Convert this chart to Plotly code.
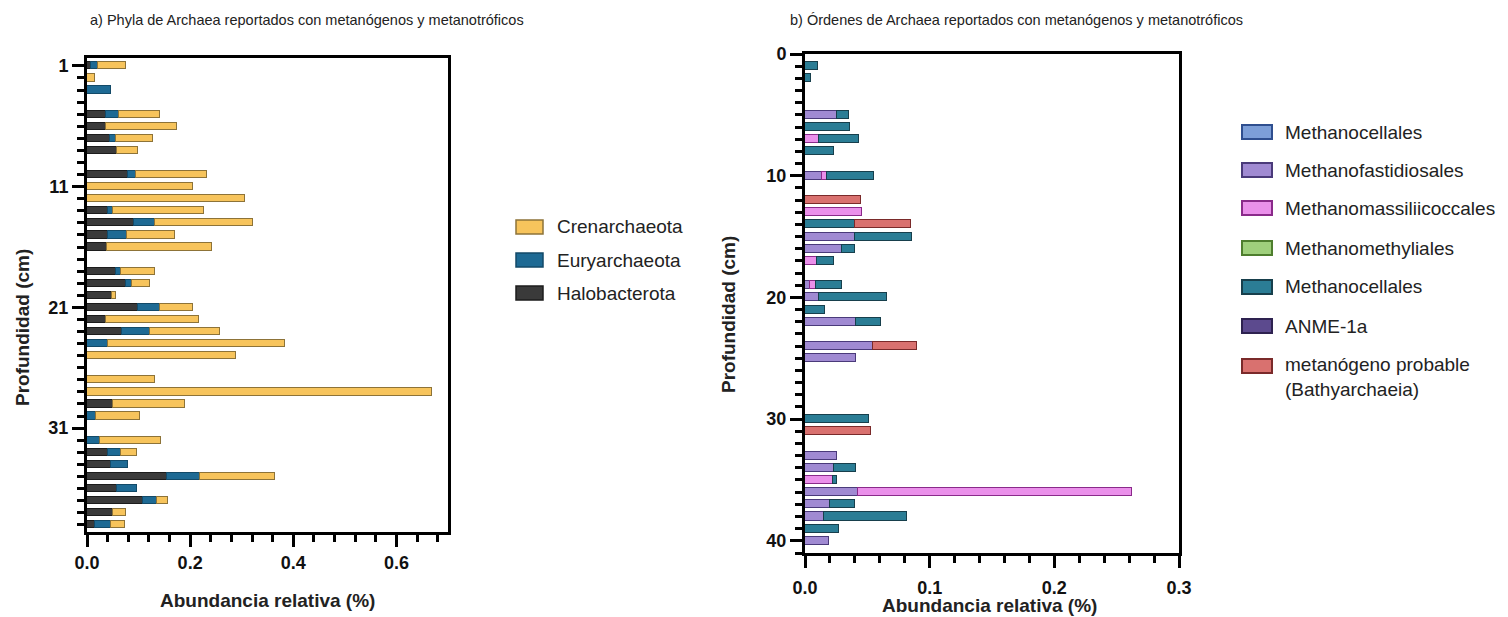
import plotly.graph_objects as go

# ---------------- Panel a: phyla (stacked segments, % relative abundance) ----------------
depth_a = list(range(1, 40))
halobacterota = [0.008, 0, 0, 0, 0.036, 0.036, 0.044, 0.058, 0, 0.079,
                 0, 0, 0.040, 0.092, 0.040, 0.038, 0, 0.057, 0.075, 0.049,
                 0.099, 0.036, 0.067, 0, 0, 0, 0, 0, 0.051, 0,
                 0, 0, 0.040, 0.046, 0.155, 0.058, 0.109, 0.051, 0.015]
euryarchaeota = [0.013, 0, 0.047, 0, 0.026, 0, 0.013, 0, 0, 0.016,
                 0, 0, 0.011, 0.040, 0.037, 0, 0, 0.009, 0.012, 0,
                 0.043, 0, 0.055, 0.041, 0, 0, 0, 0, 0, 0.017,
                 0, 0.026, 0.026, 0.033, 0.065, 0.038, 0.027, 0, 0.031]
crenarchaeota = [0.054, 0.016, 0, 0, 0.080, 0.138, 0.070, 0.040, 0, 0.137,
                 0.205, 0.306, 0.176, 0.190, 0.093, 0.205, 0, 0.065, 0.035, 0.007,
                 0.063, 0.182, 0.136, 0.342, 0.289, 0, 0.132, 0.669, 0.139, 0.085,
                 0, 0.117, 0.031, 0, 0.144, 0, 0.021, 0.024, 0.027]
phyla_names = ["Halobacterota", "Euryarchaeota", "Crenarchaeota"]
phyla_values = [halobacterota, euryarchaeota, crenarchaeota]
phyla_fill = ["#3a3a3a", "#1e6a94", "#f7c45c"]
phyla_edge = ["#1c1c1c", "#134a68", "#8d7338"]

ytick_a = [1, 11, 21, 31]
xtick_a = [0.0, 0.2, 0.4, 0.6]

# ---------------- Panel b: orders (stacked segments) ----------------
depth_b = list(range(1, 41))
methanocellales_1 = [0] * 40
methanofastidiosales = [0, 0, 0, 0, 0.026, 0, 0, 0, 0, 0.014,
                        0, 0, 0, 0, 0.040, 0.030, 0, 0, 0.004, 0.011,
                        0, 0.041, 0, 0.0545, 0.041, 0, 0, 0, 0, 0,
                        0, 0, 0.0257, 0.0235, 0, 0.0428, 0.020, 0.0155, 0, 0.0195]
methanomassiliicoccales = [0, 0, 0, 0, 0, 0, 0.0115, 0, 0, 0.004,
                           0, 0, 0.046, 0, 0, 0, 0.0094, 0, 0.005, 0,
                           0, 0, 0, 0, 0, 0, 0, 0, 0, 0,
                           0, 0, 0, 0, 0.0227, 0.2195, 0, 0, 0, 0]
methanomethyliales = [0] * 40
methanocellales_2 = [0.0102, 0.0048, 0, 0, 0.0096, 0.036, 0.032, 0.023, 0, 0.037,
                     0, 0, 0, 0.040, 0.046, 0.010, 0.014, 0, 0.021, 0.055,
                     0.0158, 0.020, 0, 0, 0, 0, 0, 0, 0, 0.051,
                     0, 0, 0, 0.0175, 0.003, 0, 0.020, 0.066, 0.0275, 0]
anme_1a = [0] * 40
bathyarchaeia = [0, 0, 0, 0, 0, 0, 0, 0, 0, 0,
                 0, 0.045, 0, 0.045, 0, 0, 0, 0, 0, 0,
                 0, 0, 0, 0.035, 0, 0, 0, 0, 0, 0,
                 0.053, 0, 0, 0, 0, 0, 0, 0, 0, 0]
order_names = ["Methanocellales", "Methanofastidiosales", "Methanomassiliicoccales",
               "Methanomethyliales", "Methanocellales", "ANME-1a",
               "metanógeno probable<br>(Bathyarchaeia)"]
order_values = [methanocellales_1, methanofastidiosales, methanomassiliicoccales,
                methanomethyliales, methanocellales_2, anme_1a, bathyarchaeia]
order_fill = ["#7d9fd8", "#a08ad2", "#ea90ea", "#9fd07c", "#2b7d95", "#5c4a8e", "#d9716f"]
order_edge = ["#2f4f8f", "#4a3a7a", "#8a2a8a", "#4e7e2e", "#173f4c", "#2e2250", "#7a2a2a"]

ytick_b = [0, 10, 20, 30, 40]
xtick_b = [0.0, 0.1, 0.2, 0.3]

W, H = 1508, 617


def px(x):
    return x / W


def py(y):
    return 1 - y / H


fig = go.Figure()

for name, vals, fc, ec in zip(phyla_names, phyla_values, phyla_fill, phyla_edge):
    fig.add_trace(go.Bar(
        x=[v if v else None for v in vals], y=depth_a, orientation="h", name=name,
        marker=dict(color=fc, line=dict(color=ec, width=1)), width=0.6,
        xaxis="x", yaxis="y", showlegend=False))

for name, vals, fc, ec in zip(order_names, order_values, order_fill, order_edge):
    fig.add_trace(go.Bar(
        x=[v if v else None for v in vals], y=depth_b, orientation="h", name=name,
        marker=dict(color=fc, line=dict(color=ec, width=1)), width=0.66,
        xaxis="x2", yaxis="y2", showlegend=False))

tickfont = dict(family="Liberation Sans, Arial", size=18, color="#111", weight="bold")
axis_common = dict(showgrid=False, zeroline=False, showline=True, linecolor="black",
                   linewidth=3, mirror=True, ticks="outside", tickcolor="black",
                   tickwidth=3, ticklen=12, tickfont=tickfont, automargin=False)


def minor(t0, dt):
    return dict(tickmode="linear", tick0=t0, dtick=dt, ticks="outside",
                ticklen=7, tickwidth=2.5, tickcolor="black")


fig.update_layout(
    width=W, height=H, margin=dict(l=0, r=0, t=0, b=0),
    paper_bgcolor="white", plot_bgcolor="white", barmode="stack",
    bargap=0, showlegend=False,
    xaxis=dict(domain=[px(87), px(448)], range=[0, 0.70], anchor="y",
               tickmode="array", tickvals=xtick_a, ticktext=[f"{v:.1f}" for v in xtick_a],
               minor=minor(0, 0.04), **axis_common),
    yaxis=dict(domain=[py(532), py(58)], range=[39.6, 0.35], anchor="x",
               tickmode="array", tickvals=ytick_a, ticktext=[str(v) for v in ytick_a],
               minor=minor(1, 1), **axis_common),
    xaxis2=dict(domain=[px(805), px(1179)], range=[0, 0.30], anchor="y2",
                tickmode="array", tickvals=xtick_b, ticktext=[f"{v:.1f}" for v in xtick_b],
                minor=minor(0, 0.02), ticklabelstandoff=4, **axis_common),
    yaxis2=dict(domain=[py(553), py(54)], range=[41, 0], anchor="x2",
                tickmode="array", tickvals=ytick_b, ticktext=[str(v) for v in ytick_b],
                minor=minor(0, 1), **axis_common),
)

annotations = []
shapes = []

title_font = dict(family="Liberation Sans, Arial", size=14.5, color="#222")
annotations.append(dict(text="a) Phyla de Archaea reportados con metanógenos y metanotróficos",
                        x=px(88), y=py(20), xref="paper", yref="paper",
                        xanchor="left", yanchor="middle", showarrow=False, font=title_font))
annotations.append(dict(text="b) Órdenes de Archaea reportados con metanógenos y metanotróficos",
                        x=px(788), y=py(20), xref="paper", yref="paper",
                        xanchor="left", yanchor="middle", showarrow=False, font=title_font))

label_font = dict(family="Liberation Sans, Arial", size=19, color="#222", weight="bold")
for xc, yc, txt, ang in [(267, 600, "Abundancia relativa (%)", 0),
                         (990, 605, "Abundancia relativa (%)", 0),
                         (22, 328, "Profundidad (cm)", -90),
                         (728, 315, "Profundidad (cm)", -90)]:
    annotations.append(dict(text=txt, x=px(xc), y=py(yc), xref="paper", yref="paper",
                            xanchor="center", yanchor="middle", showarrow=False,
                            textangle=ang, font=label_font))

legend_font = dict(family="Liberation Sans, Arial", size=19, color="#222")

# legend for panel a (listed top to bottom in reverse stacking order)
leg_a_y = [227, 260, 293]
for i, yc in enumerate(leg_a_y):
    k = len(phyla_names) - 1 - i
    shapes.append(dict(type="rect", xref="paper", yref="paper",
                       x0=px(516), x1=px(543), y0=py(yc + 7), y1=py(yc - 7),
                       fillcolor=phyla_fill[k], line=dict(color=phyla_edge[k], width=1.5)))
    annotations.append(dict(text=phyla_names[k], x=px(555), y=py(yc), xref="paper", yref="paper",
                            xanchor="left", yanchor="middle", showarrow=False, font=legend_font))

# legend for panel b
leg_b_y = [132, 170, 208, 248, 287, 326, 366]
for k, yc in enumerate(leg_b_y):
    shapes.append(dict(type="rect", xref="paper", yref="paper",
                       x0=px(1242), x1=px(1272), y0=py(yc + 7), y1=py(yc - 7),
                       fillcolor=order_fill[k], line=dict(color=order_edge[k], width=2)))
    two_line = "<br>" in order_names[k]
    annotations.append(dict(text=order_names[k], x=px(1283),
                            y=py(yc + 10.5 if two_line else yc), xref="paper", yref="paper",
                            xanchor="left", yanchor="middle", align="left",
                            showarrow=False, font=legend_font))

fig.update_layout(annotations=annotations, shapes=shapes)

fig.write_html("out.html")
